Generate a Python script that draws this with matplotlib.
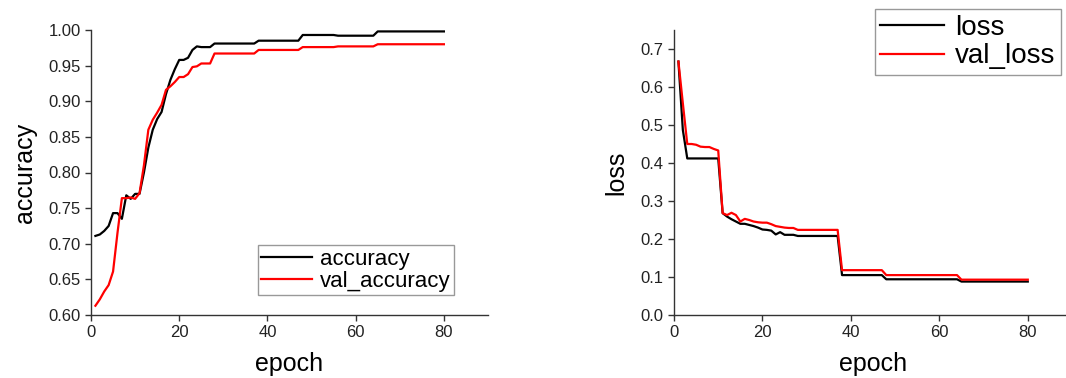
import matplotlib
matplotlib.use("Agg")
import matplotlib.pyplot as plt

plt.rcParams['font.family'] = ['Liberation Sans', 'DejaVu Sans']

epochs = list(range(1, 81))

accuracy = ([0.711, 0.713, 0.718, 0.725, 0.743, 0.743, 0.735, 0.768, 0.763, 0.770,
             0.770, 0.800, 0.835, 0.860, 0.875, 0.885, 0.910, 0.930, 0.945, 0.958,
             0.958, 0.961, 0.972, 0.977, 0.976, 0.976, 0.976]
            + [0.981] * 10 + [0.985] * 10 + [0.993] * 8 + [0.992] * 9 + [0.998] * 16)

val_accuracy = ([0.613, 0.622, 0.633, 0.642, 0.661, 0.715, 0.764, 0.764, 0.765, 0.763,
                 0.771, 0.810, 0.860, 0.874, 0.884, 0.895, 0.916, 0.921, 0.927, 0.934,
                 0.934, 0.938, 0.948, 0.949, 0.953, 0.953, 0.953]
                + [0.967] * 10 + [0.972] * 10 + [0.976] * 8 + [0.977] * 9 + [0.980] * 16)

loss = ([0.667, 0.487, 0.412, 0.412, 0.412, 0.412, 0.412, 0.412, 0.412, 0.412,
         0.268, 0.259, 0.252, 0.246, 0.240, 0.240, 0.237, 0.234, 0.230, 0.225,
         0.224, 0.222, 0.212, 0.218, 0.211, 0.211, 0.211]
        + [0.208] * 10 + [0.105] * 10 + [0.094] * 17 + [0.088] * 16)

val_loss = ([0.667, 0.557, 0.450, 0.450, 0.448, 0.443, 0.442, 0.442, 0.437, 0.433,
             0.268, 0.263, 0.269, 0.263, 0.246, 0.253, 0.250, 0.246, 0.244, 0.243,
             0.243, 0.239, 0.234, 0.232, 0.230, 0.229, 0.229]
            + [0.224] * 10 + [0.118] * 10 + [0.105] * 17 + [0.093] * 16)

acc_yticks = [0.60, 0.65, 0.70, 0.75, 0.80, 0.85, 0.90, 0.95, 1.00]
loss_yticks = [0.0, 0.1, 0.2, 0.3, 0.4, 0.5, 0.6, 0.7]
xticks = [0, 20, 40, 60, 80]

W, H = 1066, 378
fig = plt.figure(figsize=(W / 100, H / 100), dpi=100)

ax1 = fig.add_axes([91 / W, 1 - 315 / H, 397 / W, 285 / H])
ax2 = fig.add_axes([674 / W, 1 - 315 / H, 398 / W, 285 / H])

def style(ax):
    for s in ['top', 'right']:
        ax.spines[s].set_visible(False)
    for s in ['left', 'bottom']:
        ax.spines[s].set_linewidth(1.0)
        ax.spines[s].set_color('#333333')
    ax.tick_params(direction='out', length=4, width=1.0, color='#333333',
                   labelsize=12, labelcolor='#222222')
    ax.set_xlim(0, 90)
    ax.set_xticks(xticks)
    ax.set_xlabel('epoch', fontsize=18, labelpad=8)

ax1.plot(epochs, accuracy, color='black', lw=1.6, label='accuracy')
ax1.plot(epochs, val_accuracy, color='#ff0000', lw=1.6, label='val_accuracy')
style(ax1)
ax1.set_ylim(0.60, 1.00)
ax1.set_yticks(acc_yticks)
ax1.set_yticklabels([f'{v:.2f}' for v in acc_yticks])
ax1.set_ylabel('accuracy', fontsize=18, labelpad=8)
leg1 = ax1.legend(loc='lower left', bbox_to_anchor=(258 / W, 1 - 295 / H),
                  bbox_transform=fig.transFigure, fontsize=16, frameon=True,
                  fancybox=False, edgecolor='#999999', framealpha=1,
                  handlelength=2.3, borderpad=0.15, labelspacing=0.05,
                  handletextpad=0.35, borderaxespad=0)
leg1.get_frame().set_linewidth(1.0)

ax2.plot(epochs, loss, color='black', lw=1.6, label='loss')
ax2.plot(epochs, val_loss, color='#ff0000', lw=1.6, label='val_loss')
style(ax2)
ax2.set_ylim(0.0, 0.75)
ax2.set_yticks(loss_yticks)
ax2.set_yticklabels([f'{v:.1f}' for v in loss_yticks])
ax2.set_ylabel('loss', fontsize=18, labelpad=9)
leg2 = ax2.legend(loc='upper right', bbox_to_anchor=(1061 / W, 1 - 9 / H),
                  bbox_transform=fig.transFigure, fontsize=20, frameon=True,
                  fancybox=False, edgecolor='#999999', framealpha=1,
                  handlelength=2.3, borderpad=0.2, labelspacing=0.1,
                  handletextpad=0.4, borderaxespad=0)
leg2.get_frame().set_linewidth(1.0)

fig.savefig('out.png', dpi=100)
